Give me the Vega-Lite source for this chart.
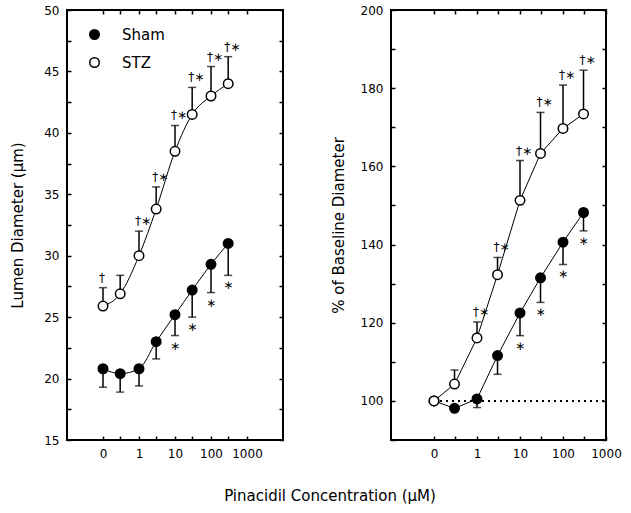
{
  "$schema": "https://vega.github.io/schema/vega-lite/v6.json",
  "background": "white",
  "padding": {"left": 9, "top": 3, "right": 5, "bottom": 5},
  "config": {
    "font": "DejaVu Sans",
    "view": {"stroke": "black", "strokeWidth": 2},
    "axis": {
      "domain": false, "grid": false, "tickColor": "black", "tickWidth": 1.5, "tickSize": -4,
      "labelFont": "DejaVu Sans", "labelFontSize": 12, "labelColor": "black", "labelPadding": 12,
      "labelOverlap": false, "labelFlush": false, "labelBound": false,
      "titleFont": "DejaVu Sans", "titleFontSize": 15, "titleFontWeight": "normal", "titleColor": "black"
    },
    "text": {"fill": "black"},
    "concat": {"spacing": 45}
  },
  "title": {"text": "Pinacidil Concentration (μM)", "orient": "bottom", "anchor": "middle", "font": "DejaVu Sans", "fontSize": 15, "fontWeight": "normal", "color": "black", "offset": 29, "dx": 14},
  "datasets": {
    "d": [
      {"panel": "diam", "group": "Sham", "conc": 0, "mean": 20.8, "err": 19.3, "ann": ""},
      {"panel": "diam", "group": "Sham", "conc": 0.3, "mean": 20.4, "err": 18.9, "ann": ""},
      {"panel": "diam", "group": "Sham", "conc": 1, "mean": 20.8, "err": 19.4, "ann": ""},
      {"panel": "diam", "group": "Sham", "conc": 3, "mean": 23.0, "err": 21.6, "ann": ""},
      {"panel": "diam", "group": "Sham", "conc": 10, "mean": 25.2, "err": 23.5, "ann": "∗"},
      {"panel": "diam", "group": "Sham", "conc": 30, "mean": 27.2, "err": 25.0, "ann": "∗"},
      {"panel": "diam", "group": "Sham", "conc": 100, "mean": 29.3, "err": 27.0, "ann": "∗"},
      {"panel": "diam", "group": "Sham", "conc": 300, "mean": 31.0, "err": 28.4, "ann": "∗"},
      {"panel": "diam", "group": "STZ", "conc": 0, "mean": 25.9, "err": 27.4, "ann": "†"},
      {"panel": "diam", "group": "STZ", "conc": 0.3, "mean": 26.9, "err": 28.4, "ann": ""},
      {"panel": "diam", "group": "STZ", "conc": 1, "mean": 30.0, "err": 32.0, "ann": "†∗"},
      {"panel": "diam", "group": "STZ", "conc": 3, "mean": 33.8, "err": 35.6, "ann": "†∗"},
      {"panel": "diam", "group": "STZ", "conc": 10, "mean": 38.5, "err": 40.6, "ann": "†∗"},
      {"panel": "diam", "group": "STZ", "conc": 30, "mean": 41.5, "err": 43.7, "ann": "†∗"},
      {"panel": "diam", "group": "STZ", "conc": 100, "mean": 43.0, "err": 45.4, "ann": "†∗"},
      {"panel": "diam", "group": "STZ", "conc": 300, "mean": 44.0, "err": 46.2, "ann": "†∗"},
      {"panel": "pct", "group": "Sham", "conc": 0, "mean": 100, "err": null, "ann": ""},
      {"panel": "pct", "group": "Sham", "conc": 0.3, "mean": 98.1, "err": null, "ann": ""},
      {"panel": "pct", "group": "Sham", "conc": 1, "mean": 100.5, "err": 98.3, "ann": ""},
      {"panel": "pct", "group": "Sham", "conc": 3, "mean": 111.6, "err": 106.8, "ann": ""},
      {"panel": "pct", "group": "Sham", "conc": 10, "mean": 122.5, "err": 116.7, "ann": "∗"},
      {"panel": "pct", "group": "Sham", "conc": 30, "mean": 131.5, "err": 125.2, "ann": "∗"},
      {"panel": "pct", "group": "Sham", "conc": 100, "mean": 140.6, "err": 134.9, "ann": "∗"},
      {"panel": "pct", "group": "Sham", "conc": 300, "mean": 148.2, "err": 143.5, "ann": "∗"},
      {"panel": "pct", "group": "STZ", "conc": 0, "mean": 100, "err": null, "ann": ""},
      {"panel": "pct", "group": "STZ", "conc": 0.3, "mean": 104.3, "err": 107.9, "ann": ""},
      {"panel": "pct", "group": "STZ", "conc": 1, "mean": 116.1, "err": 120.2, "ann": "†∗"},
      {"panel": "pct", "group": "STZ", "conc": 3, "mean": 132.3, "err": 136.7, "ann": "†∗"},
      {"panel": "pct", "group": "STZ", "conc": 10, "mean": 151.3, "err": 161.5, "ann": "†∗"},
      {"panel": "pct", "group": "STZ", "conc": 30, "mean": 163.3, "err": 173.8, "ann": "†∗"},
      {"panel": "pct", "group": "STZ", "conc": 100, "mean": 169.7, "err": 180.8, "ann": "†∗"},
      {"panel": "pct", "group": "STZ", "conc": 300, "mean": 173.4, "err": 184.6, "ann": "†∗"}
    ]
  },
  "resolve": {"scale": {"fill": "independent"}},
  "hconcat": [
    {
      "width": 216, "height": 430,
      "data": {"name": "d"},
      "transform": [{"filter": "datum.panel == 'diam'"}, {"calculate": "max(datum.conc, 0.1)", "as": "cx"}],
      "resolve": {"axis": {"x": "independent", "y": "independent"}},
      "layer": [
        {
          "encoding": {
            "x": {"field": "cx", "type": "quantitative", "scale": {"type": "log", "domain": [0.037, 1100]},
              "axis": {"orient": "bottom", "title": null, "values": [0.1, 0.3, 1, 3, 10, 30, 100, 300, 1000],
                "labelExpr": "datum.value < 0.2 ? '0' : (indexof([1, 10, 100, 1000], datum.value) >= 0 ? format(datum.value, 'd') : '')"}},
            "y": {"field": "mean", "type": "quantitative", "scale": {"domain": [15, 50], "zero": false, "nice": false},
              "axis": {"orient": "left", "title": "Lumen Diameter (μm)", "titlePadding": 18,
                "values": [15, 17.5, 20, 22.5, 25, 27.5, 30, 32.5, 35, 37.5, 40, 42.5, 45, 47.5, 50],
                "labelExpr": "datum.value % 5 == 0 ? datum.label : ''"}}
          },
          "layer": [
            {"mark": {"type": "line", "color": "black", "strokeWidth": 1, "interpolate": "monotone"}, "encoding": {"detail": {"field": "group"}}},
            {"transform": [{"filter": "isValid(datum.err)"}], "mark": {"type": "rule", "color": "black", "strokeWidth": 1.5}, "encoding": {"y": {"field": "err", "type": "quantitative"}, "y2": {"field": "mean"}}},
            {"transform": [{"filter": "isValid(datum.err)"}], "mark": {"type": "tick", "orient": "horizontal", "color": "black", "size": 8, "thickness": 1.5}, "encoding": {"y": {"field": "err", "type": "quantitative"}}},
            {"mark": {"type": "point", "shape": "circle", "filled": true, "size": 90, "stroke": "black", "strokeWidth": 1.5, "opacity": 1},
              "encoding": {"fill": {"field": "group", "type": "nominal", "scale": {"domain": ["Sham", "STZ"], "range": ["black", "white"]},
                "legend": {"orient": "none", "legendX": 20, "legendY": 17, "title": null, "symbolStrokeColor": "black", "symbolStrokeWidth": 1.5, "symbolSize": 90, "symbolType": "circle", "labelFont": "DejaVu Sans", "labelFontSize": 15, "labelColor": "black", "labelOffset": 20, "rowPadding": 11, "padding": 0}}}},
            {"transform": [{"filter": "datum.group == 'STZ' && datum.ann != ''"}], "mark": {"type": "text", "align": "left", "baseline": "bottom", "dx": -4, "dy": -3, "fontSize": 12, "fill": "black"}, "encoding": {"y": {"field": "err", "type": "quantitative"}, "text": {"field": "ann"}}},
            {"transform": [{"filter": "datum.group == 'Sham' && datum.ann != ''"}], "mark": {"type": "text", "align": "center", "baseline": "middle", "dy": 10, "fontSize": 12, "fill": "black"}, "encoding": {"y": {"field": "err", "type": "quantitative"}, "text": {"field": "ann"}}}
          ]
        },
        {
          "mark": {"type": "point", "opacity": 0},
          "encoding": {
            "x": {"field": "cx", "type": "quantitative", "axis": {"orient": "top", "title": null, "labels": false, "values": [0.1, 0.3, 1, 3, 10, 30, 100, 300, 1000]}},
            "y": {"field": "mean", "type": "quantitative", "axis": {"orient": "right", "title": null, "labels": false, "values": [15, 17.5, 20, 22.5, 25, 27.5, 30, 32.5, 35, 37.5, 40, 42.5, 45, 47.5, 50]}}
          }
        }
      ]
    },
    {
      "width": 215, "height": 430,
      "data": {"name": "d"},
      "transform": [{"filter": "datum.panel == 'pct'"}, {"calculate": "max(datum.conc, 0.1)", "as": "cx"}],
      "resolve": {"axis": {"x": "independent", "y": "independent"}},
      "layer": [
        {
          "encoding": {
            "x": {"field": "cx", "type": "quantitative", "scale": {"type": "log", "domain": [0.037, 1000]},
              "axis": {"orient": "bottom", "title": null, "values": [0.1, 0.3, 1, 3, 10, 30, 100, 300, 1000],
                "labelExpr": "datum.value < 0.2 ? '0' : (indexof([1, 10, 100, 1000], datum.value) >= 0 ? format(datum.value, 'd') : '')"}},
            "y": {"field": "mean", "type": "quantitative", "scale": {"domain": [90, 200], "zero": false, "nice": false},
              "axis": {"orient": "left", "title": "% of Baseline Diameter", "titlePadding": 14,
                "values": [90, 100, 110, 120, 130, 140, 150, 160, 170, 180, 190, 200],
                "labelExpr": "datum.value % 20 == 0 ? datum.label : ''"}}
          },
          "layer": [
            {"mark": {"type": "rule", "color": "black", "strokeWidth": 1.5, "strokeDash": [2, 4]}, "encoding": {"x": {"datum": 0.1}, "x2": {"datum": 1000}, "y": {"datum": 100}}},
            {"mark": {"type": "line", "color": "black", "strokeWidth": 1}, "encoding": {"detail": {"field": "group"}}},
            {"transform": [{"filter": "isValid(datum.err)"}], "mark": {"type": "rule", "color": "black", "strokeWidth": 1.5}, "encoding": {"y": {"field": "err", "type": "quantitative"}, "y2": {"field": "mean"}}},
            {"transform": [{"filter": "isValid(datum.err)"}], "mark": {"type": "tick", "orient": "horizontal", "color": "black", "size": 8, "thickness": 1.5}, "encoding": {"y": {"field": "err", "type": "quantitative"}}},
            {"mark": {"type": "point", "shape": "circle", "filled": true, "size": 90, "stroke": "black", "strokeWidth": 1.5, "opacity": 1},
              "encoding": {"fill": {"field": "group", "type": "nominal", "scale": {"domain": ["Sham", "STZ"], "range": ["black", "white"]}, "legend": null}}},
            {"transform": [{"filter": "datum.group == 'STZ' && datum.ann != ''"}], "mark": {"type": "text", "align": "left", "baseline": "bottom", "dx": -4, "dy": -3, "fontSize": 12, "fill": "black"}, "encoding": {"y": {"field": "err", "type": "quantitative"}, "text": {"field": "ann"}}},
            {"transform": [{"filter": "datum.group == 'Sham' && datum.ann != ''"}], "mark": {"type": "text", "align": "center", "baseline": "middle", "dy": 10, "fontSize": 12, "fill": "black"}, "encoding": {"y": {"field": "err", "type": "quantitative"}, "text": {"field": "ann"}}}
          ]
        },
        {
          "mark": {"type": "point", "opacity": 0},
          "encoding": {
            "x": {"field": "cx", "type": "quantitative", "axis": {"orient": "top", "title": null, "labels": false, "values": [0.1, 0.3, 1, 3, 10, 30, 100, 300, 1000]}},
            "y": {"field": "mean", "type": "quantitative", "axis": {"orient": "right", "title": null, "labels": false, "values": [90, 100, 110, 120, 130, 140, 150, 160, 170, 180, 190, 200]}}
          }
        }
      ]
    }
  ]
}
